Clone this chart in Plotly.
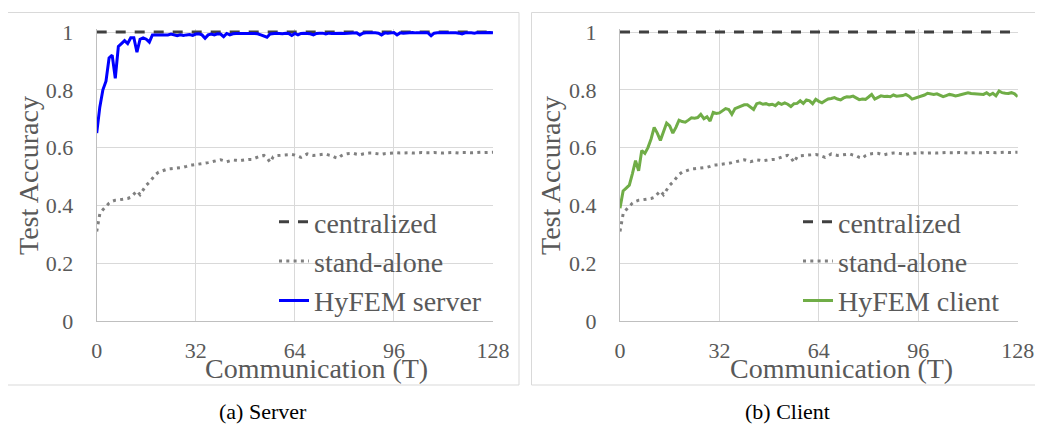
import plotly.graph_objects as go

rounds = list(range(0, 129))

centralized = [1.0] * 129

stand_alone = [
    0.31, 0.37, 0.385, 0.397, 0.408, 0.414, 0.418, 0.419, 0.42, 0.422,
    0.424, 0.428, 0.44, 0.45, 0.437, 0.455, 0.47, 0.48, 0.495, 0.507,
    0.515, 0.519, 0.523, 0.526, 0.527, 0.528, 0.53, 0.531, 0.532, 0.535,
    0.539, 0.54, 0.541, 0.542, 0.544, 0.546, 0.548, 0.55, 0.553, 0.556,
    0.558, 0.555, 0.551, 0.554, 0.557, 0.556, 0.554, 0.556, 0.558, 0.559,
    0.559, 0.563, 0.568, 0.571, 0.573, 0.565, 0.549, 0.568, 0.572, 0.573,
    0.574, 0.576, 0.577, 0.576, 0.574, 0.571, 0.566, 0.572, 0.578, 0.575,
    0.573, 0.574, 0.575, 0.578, 0.578, 0.574, 0.572, 0.566, 0.563, 0.572,
    0.577, 0.579, 0.58, 0.58, 0.577, 0.575, 0.578, 0.58, 0.581, 0.581,
    0.58, 0.578, 0.577, 0.579, 0.58, 0.581, 0.582, 0.582, 0.581, 0.582,
    0.583, 0.582, 0.581, 0.582, 0.582, 0.583, 0.582, 0.581, 0.582, 0.583,
    0.582, 0.582, 0.581, 0.582, 0.583, 0.583, 0.582, 0.581, 0.583, 0.584,
    0.583, 0.582, 0.583, 0.584, 0.584, 0.583, 0.584, 0.584, 0.584,
]

hyfem_server = [
    0.65, 0.74, 0.80, 0.83, 0.91, 0.92, 0.84, 0.95, 0.96, 0.97,
    0.96, 0.98, 0.98, 0.93, 0.975, 0.98, 0.975, 0.965, 0.99, 0.99,
    0.99, 0.99, 0.991, 0.99, 0.993, 0.99, 0.987, 0.99, 0.988, 0.99,
    0.991, 0.988, 0.993, 0.994, 0.99, 0.978, 0.99, 0.993, 0.99, 0.994,
    0.993, 0.984, 0.995, 0.99, 0.994, 0.995, 0.994, 0.995, 0.995, 0.994,
    0.995, 0.995, 0.994, 0.99, 0.986, 0.982, 0.993, 0.995, 0.996, 0.995,
    0.994, 0.996, 0.995, 0.988, 0.995, 0.99, 0.995, 0.996, 0.995, 0.994,
    0.99, 0.995, 0.996, 0.996, 0.993, 0.996, 0.995, 0.996, 0.997, 0.996,
    0.995, 0.996, 0.995, 0.996, 0.997, 0.99, 0.996, 0.997, 0.996, 0.997,
    0.997, 0.996, 0.99, 0.997, 0.996, 0.997, 0.998, 0.99, 0.997, 0.996,
    0.997, 0.997, 0.998, 0.997, 0.996, 0.997, 0.998, 0.997, 0.987, 0.996,
    0.997, 0.998, 0.997, 0.998, 0.997, 0.998, 0.997, 0.996, 0.993, 0.997,
    0.998, 0.997, 0.996, 0.998, 0.997, 0.998, 0.997, 0.998, 0.997,
]

hyfem_client = [
    0.39, 0.45, 0.46, 0.47, 0.51, 0.555, 0.52, 0.59, 0.58, 0.60,
    0.63, 0.67, 0.65, 0.625, 0.655, 0.685, 0.675, 0.65, 0.67, 0.695,
    0.69, 0.688, 0.695, 0.703, 0.702, 0.704, 0.715, 0.70, 0.707, 0.692,
    0.722, 0.718, 0.72, 0.728, 0.735, 0.732, 0.715, 0.735, 0.74, 0.745,
    0.748, 0.748, 0.74, 0.732, 0.752, 0.755, 0.75, 0.752, 0.748, 0.75,
    0.745, 0.755, 0.75, 0.755, 0.75, 0.742, 0.752, 0.753, 0.762, 0.753,
    0.765, 0.762, 0.752, 0.767, 0.76, 0.755, 0.762, 0.768, 0.77, 0.773,
    0.768, 0.765, 0.772, 0.776, 0.775, 0.778, 0.772, 0.766, 0.768, 0.767,
    0.775, 0.784, 0.768, 0.775, 0.779, 0.777, 0.778, 0.776, 0.782, 0.778,
    0.779, 0.78, 0.784, 0.778, 0.768, 0.771, 0.774, 0.778, 0.782, 0.788,
    0.786, 0.784, 0.786, 0.782, 0.776, 0.78, 0.784, 0.782, 0.779, 0.781,
    0.784, 0.786, 0.79, 0.787, 0.786, 0.784, 0.785, 0.784, 0.79, 0.782,
    0.788, 0.779, 0.796, 0.79, 0.788, 0.787, 0.79, 0.786, 0.776,
]

x_ticks = [0, 32, 64, 96, 128]
y_ticks = [0, 0.2, 0.4, 0.6, 0.8, 1]
y_tick_text = ["0", "0.2", "0.4", "0.6", "0.8", "1"]

# page body has an 8px margin; build the figure so that it fills the window
OFF = 8
W, H = 1043 - OFF, 425 - OFF
FONT = "Liberation Serif"
GRAY_TXT = "#595959"


def px(v):
    return (v - OFF) / W


def py(v):
    return (H - (v - OFF)) / H


fig = go.Figure()

panels = [
    dict(xa="x", ya="y", leg="legend", main=hyfem_server, name="HyFEM server", color="#0000FF"),
    dict(xa="x2", ya="y2", leg="legend2", main=hyfem_client, name="HyFEM client", color="#70AD47"),
]

for p in panels:
    fig.add_trace(go.Scatter(x=rounds, y=centralized, mode="lines", name="centralized",
                             xaxis=p["xa"], yaxis=p["ya"], legend=p["leg"],
                             line=dict(color="#404040", width=3, dash="10px,9px")))
    fig.add_trace(go.Scatter(x=rounds, y=stand_alone, mode="lines", name="stand-alone",
                             xaxis=p["xa"], yaxis=p["ya"], legend=p["leg"],
                             line=dict(color="#808080", width=3, dash="3px,4.3px")))
    fig.add_trace(go.Scatter(x=rounds, y=p["main"], mode="lines", name=p["name"],
                             xaxis=p["xa"], yaxis=p["ya"], legend=p["leg"],
                             line=dict(color=p["color"], width=3)))

y0_px, y1_px = 321, 32
ymax = 1.012
top_px = y0_px - (y0_px - y1_px) * ymax
ydom = [py(y0_px), py(top_px)]

axis_common = dict(
    range=[0, 128], tickvals=x_ticks, showgrid=True, gridcolor="#D9D9D9", gridwidth=1,
    showline=True, linecolor="#BFBFBF", linewidth=1, zeroline=False, automargin=False,
    tickfont=dict(family=FONT, size=22, color=GRAY_TXT), ticks="", ticklabelstandoff=10,
)
yaxis_common = dict(
    range=[0, ymax], tickvals=y_ticks, ticktext=y_tick_text, showgrid=True, gridcolor="#D9D9D9",
    gridwidth=1, showline=True, linecolor="#BFBFBF", linewidth=1, zeroline=False, automargin=False,
    tickfont=dict(family=FONT, size=22, color=GRAY_TXT), ticks="", ticklabelstandoff=18,
    domain=ydom,
)

fig.update_layout(
    width=W, height=H, autosize=False,
    margin=dict(l=0, r=0, t=0, b=0, autoexpand=False),
    paper_bgcolor="white", plot_bgcolor="white",
    xaxis=dict(domain=[px(96.7), px(493)], anchor="y", **axis_common),
    yaxis=dict(anchor="x", **yaxis_common),
    xaxis2=dict(domain=[px(620), px(1017.7)], anchor="y2", **axis_common),
    yaxis2=dict(anchor="x2", **yaxis_common),
    legend=dict(x=px(274), y=py(197), xanchor="left", yanchor="top",
                bgcolor="rgba(0,0,0,0)", font=dict(family=FONT, size=28, color=GRAY_TXT),
                tracegroupgap=0, itemwidth=30),
    legend2=dict(x=px(274 + 524), y=py(197), xanchor="left", yanchor="top",
                 bgcolor="rgba(0,0,0,0)", font=dict(family=FONT, size=28, color=GRAY_TXT),
                 tracegroupgap=0, itemwidth=30),
    showlegend=True,
)

# panel borders
fig.add_shape(type="rect", xref="paper", yref="paper",
              x0=px(7.5), x1=px(519), y0=py(385), y1=py(12.5),
              line=dict(color="#D9D9D9", width=1))
fig.add_shape(type="rect", xref="paper", yref="paper",
              x0=px(531.5), x1=px(1044), y0=py(385), y1=py(12.5),
              line=dict(color="#D9D9D9", width=1))

# axis titles
for cx, ycx in [(316, 28), (841, 550)]:
    fig.add_annotation(text="Communication (T)", xref="paper", yref="paper",
                       x=px(cx), y=py(368), xanchor="center", yanchor="middle",
                       showarrow=False, font=dict(family=FONT, size=28, color=GRAY_TXT))
    fig.add_annotation(text="Test Accuracy", xref="paper", yref="paper", textangle=-90,
                       x=px(ycx), y=py(176), xanchor="center", yanchor="middle",
                       showarrow=False, font=dict(family=FONT, size=28, color=GRAY_TXT))

# captions
for cx, txt in [(263, "(a) Server"), (787, "(b) Client")]:
    fig.add_annotation(text=txt, xref="paper", yref="paper",
                       x=px(cx), y=py(411), xanchor="center", yanchor="middle",
                       showarrow=False, font=dict(family=FONT, size=22, color="black"))

fig.write_html("out.html")
